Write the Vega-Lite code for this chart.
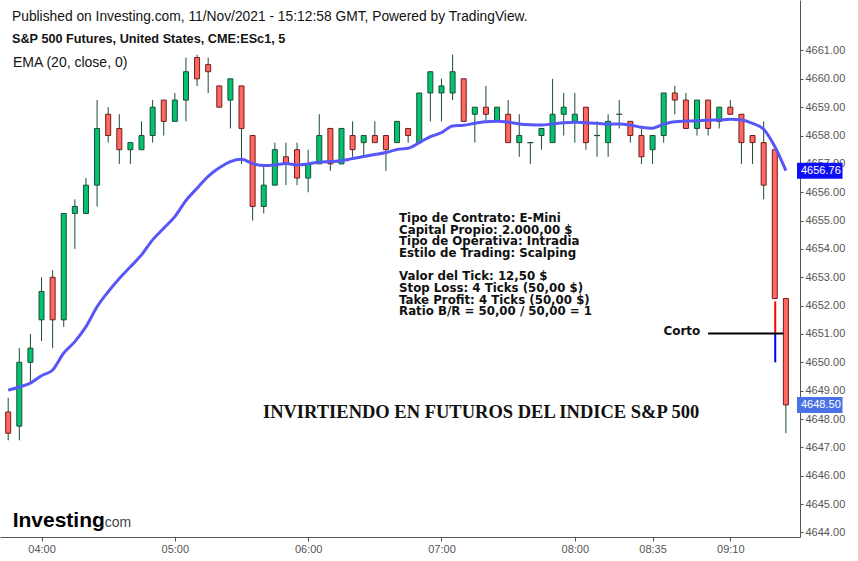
{
  "$schema": "https://vega.github.io/schema/vega-lite/v6.json",
  "width": 800,
  "height": 537,
  "autosize": {"type": "none"},
  "padding": {"left": 0, "top": 0, "right": 58, "bottom": 24},
  "background": "white",
  "config": {
    "view": {"stroke": null},
    "font": "Liberation Sans",
    "axis": {"domainColor": "#555555", "tickColor": "#555555", "labelColor": "#555555", "labelFontSize": 11, "labelFont": "Liberation Sans", "grid": false, "title": null, "labelFlush": false, "labelOverlap": false, "labelPadding": 2}
  },
  "title": {
    "text": "Published on Investing.com, 11/Nov/2021 - 15:12:58 GMT, Powered by TradingView.",
    "anchor": "start", "frame": "group", "orient": "top",
    "offset": -38, "dx": 12, "baseline": "bottom",
    "fontSize": 13.8, "fontWeight": "normal", "font": "Liberation Sans", "color": "#131313"
  },
  "data": {"values": [
    {"t":225,"o":4648.25,"h":4648.75,"l":4647.25,"c":4647.5,"ema":4649.02},
    {"t":230,"o":4647.75,"h":4650.5,"l":4647.25,"c":4650,"ema":4649.13},
    {"t":235,"o":4650,"h":4651,"l":4649.25,"c":4650.5,"ema":4649.27},
    {"t":240,"o":4651.5,"h":4653,"l":4650.75,"c":4652.5,"ema":4649.53},
    {"t":245,"o":4653,"h":4653.25,"l":4650.5,"c":4651.5,"ema":4649.73},
    {"t":250,"o":4651.5,"h":4655.25,"l":4651.25,"c":4655.25,"ema":4650.33},
    {"t":255,"o":4655.25,"h":4655.75,"l":4654,"c":4655.5,"ema":4650.73},
    {"t":260,"o":4655.25,"h":4656.5,"l":4655.25,"c":4656.25,"ema":4651.26},
    {"t":265,"o":4656.25,"h":4659.25,"l":4655.5,"c":4658.25,"ema":4651.96},
    {"t":270,"o":4658.75,"h":4659,"l":4657.75,"c":4658,"ema":4652.49},
    {"t":275,"o":4658.25,"h":4658.75,"l":4657,"c":4657.5,"ema":4652.96},
    {"t":280,"o":4657.5,"h":4657.75,"l":4657,"c":4657.75,"ema":4653.37},
    {"t":285,"o":4657.5,"h":4658.5,"l":4657.5,"c":4658,"ema":4653.79},
    {"t":290,"o":4658,"h":4659.25,"l":4657.75,"c":4659,"ema":4654.32},
    {"t":295,"o":4659.25,"h":4659.25,"l":4658,"c":4658.5,"ema":4654.73},
    {"t":300,"o":4658.5,"h":4659.5,"l":4658.5,"c":4659.25,"ema":4655.14},
    {"t":305,"o":4659.25,"h":4660.75,"l":4658.5,"c":4660.25,"ema":4655.71},
    {"t":310,"o":4660.75,"h":4660.85,"l":4659.75,"c":4660,"ema":4656.14},
    {"t":315,"o":4660.5,"h":4660.75,"l":4659.5,"c":4660.25,"ema":4656.56},
    {"t":320,"o":4659.75,"h":4659.75,"l":4659,"c":4659,"ema":4656.86},
    {"t":325,"o":4659.25,"h":4660,"l":4658.25,"c":4660,"ema":4657.08},
    {"t":330,"o":4659.75,"h":4659.75,"l":4657,"c":4658.25,"ema":4657.16},
    {"t":335,"o":4658,"h":4658,"l":4655,"c":4655.5,"ema":4657.01},
    {"t":340,"o":4655.5,"h":4657,"l":4655.25,"c":4656.25,"ema":4656.94},
    {"t":345,"o":4656.25,"h":4657.75,"l":4656.25,"c":4657.5,"ema":4656.96},
    {"t":350,"o":4657.25,"h":4657.75,"l":4656.25,"c":4657,"ema":4657.01},
    {"t":355,"o":4657.5,"h":4657.75,"l":4656.25,"c":4656.5,"ema":4656.96},
    {"t":360,"o":4656.5,"h":4657.5,"l":4656,"c":4657,"ema":4657.0},
    {"t":365,"o":4657,"h":4658.75,"l":4657,"c":4658,"ema":4657.06},
    {"t":370,"o":4658.25,"h":4658.25,"l":4656.75,"c":4657,"ema":4657.08},
    {"t":375,"o":4657,"h":4658.25,"l":4657,"c":4658.25,"ema":4657.11},
    {"t":380,"o":4658,"h":4658.5,"l":4657.25,"c":4657.5,"ema":4657.19},
    {"t":385,"o":4657.75,"h":4658,"l":4657.25,"c":4658,"ema":4657.26},
    {"t":390,"o":4658,"h":4658.5,"l":4657.75,"c":4657.75,"ema":4657.33},
    {"t":395,"o":4658,"h":4658,"l":4656.75,"c":4657.5,"ema":4657.40},
    {"t":400,"o":4657.75,"h":4658.5,"l":4657.75,"c":4658.5,"ema":4657.51},
    {"t":405,"o":4658.25,"h":4658.25,"l":4657.75,"c":4658,"ema":4657.55},
    {"t":410,"o":4657.75,"h":4659.5,"l":4657.75,"c":4659.5,"ema":4657.75},
    {"t":415,"o":4659.5,"h":4660.25,"l":4658.5,"c":4660.25,"ema":4657.96},
    {"t":420,"o":4659.5,"h":4660,"l":4658.5,"c":4659.75,"ema":4658.10},
    {"t":425,"o":4659.5,"h":4660.85,"l":4659.25,"c":4660.25,"ema":4658.34},
    {"t":430,"o":4660,"h":4660,"l":4658.5,"c":4658.5,"ema":4658.36},
    {"t":435,"o":4658.75,"h":4659,"l":4657.75,"c":4659,"ema":4658.43},
    {"t":440,"o":4659,"h":4659.75,"l":4658.5,"c":4658.75,"ema":4658.49},
    {"t":445,"o":4658.5,"h":4659,"l":4658.5,"c":4659,"ema":4658.50},
    {"t":450,"o":4658.75,"h":4659.25,"l":4657.75,"c":4657.75,"ema":4658.47},
    {"t":455,"o":4657.75,"h":4658.75,"l":4657.25,"c":4658,"ema":4658.41},
    {"t":460,"o":4657.75,"h":4657.75,"l":4657,"c":4657.75,"ema":4658.38},
    {"t":465,"o":4658,"h":4658.25,"l":4657.5,"c":4658.25,"ema":4658.37},
    {"t":470,"o":4657.75,"h":4660,"l":4657.75,"c":4658.75,"ema":4658.41},
    {"t":475,"o":4658.75,"h":4659.5,"l":4658,"c":4659,"ema":4658.45},
    {"t":480,"o":4658.5,"h":4659.5,"l":4657.75,"c":4658.75,"ema":4658.47},
    {"t":485,"o":4659,"h":4659,"l":4657.5,"c":4657.75,"ema":4658.45},
    {"t":490,"o":4658,"h":4658.5,"l":4657.25,"c":4658,"ema":4658.43},
    {"t":495,"o":4657.75,"h":4658.75,"l":4657.25,"c":4658.5,"ema":4658.40},
    {"t":500,"o":4658.75,"h":4659.25,"l":4658.25,"c":4658.75,"ema":4658.41},
    {"t":505,"o":4658.5,"h":4658.5,"l":4657.75,"c":4658,"ema":4658.37},
    {"t":510,"o":4658,"h":4658.25,"l":4657,"c":4657.25,"ema":4658.29},
    {"t":515,"o":4657.5,"h":4658,"l":4657,"c":4658,"ema":4658.26},
    {"t":520,"o":4658,"h":4659.5,"l":4657.75,"c":4659.5,"ema":4658.40},
    {"t":525,"o":4659.5,"h":4659.75,"l":4658.75,"c":4659.25,"ema":4658.49},
    {"t":530,"o":4659.25,"h":4659.5,"l":4658.25,"c":4658.25,"ema":4658.51},
    {"t":535,"o":4658.25,"h":4659.25,"l":4658,"c":4659.25,"ema":4658.52},
    {"t":540,"o":4659.25,"h":4659.25,"l":4658,"c":4658.25,"ema":4658.54},
    {"t":545,"o":4658.5,"h":4659,"l":4658.25,"c":4659,"ema":4658.55},
    {"t":550,"o":4659,"h":4659.25,"l":4658.75,"c":4658.75,"ema":4658.57},
    {"t":555,"o":4658.75,"h":4658.75,"l":4657,"c":4657.75,"ema":4658.55},
    {"t":560,"o":4658,"h":4658,"l":4657,"c":4657.75,"ema":4658.43},
    {"t":565,"o":4657.75,"h":4658.5,"l":4655.75,"c":4656.25,"ema":4658.22},
    {"t":570,"o":4657.5,"h":4657.5,"l":4652.25,"c":4652.25,"ema":4657.61},
    {"t":575,"o":4652.25,"h":4652.25,"l":4647.5,"c":4648.5,"ema":4656.76}
  ]},
  "layer": [
    {
      "mark": {"type": "rule", "color": "#1a4d36", "strokeWidth": 1},
      "encoding": {
        "x": {"field": "t", "type": "quantitative", "scale": {"domain": [223.56, 579.1], "nice": false, "zero": false},
          "axis": {"orient": "bottom", "values": [240, 300, 360, 420, 480, 515, 550], "labelExpr": "utcFormat(datum.value*60000, '%H:%M')", "tickSize": 4}},
        "y": {"field": "l", "type": "quantitative", "scale": {"domain": [4643.84, 4662.78], "nice": false, "zero": false},
          "axis": {"orient": "right", "format": ".2f", "values": [4644,4645,4646,4647,4648,4649,4650,4651,4652,4653,4654,4655,4656,4657,4658,4659,4660,4661], "tickSize": 3}},
        "y2": {"field": "h"}
      }
    },
    {
      "transform": [{"filter": "datum.c > datum.o"}],
      "mark": {"type": "bar", "size": 5, "fill": "#02c46f", "stroke": "#1a4d36", "strokeWidth": 1},
      "encoding": {
        "x": {"field": "t", "type": "quantitative", "scale": {"domain": [223.56, 579.1], "nice": false, "zero": false},
          "axis": {"orient": "bottom", "values": [240, 300, 360, 420, 480, 515, 550], "labelExpr": "utcFormat(datum.value*60000, '%H:%M')", "tickSize": 4}},
        "y": {"field": "o", "type": "quantitative", "scale": {"domain": [4643.84, 4662.78], "nice": false, "zero": false},
          "axis": {"orient": "right", "format": ".2f", "values": [4644,4645,4646,4647,4648,4649,4650,4651,4652,4653,4654,4655,4656,4657,4658,4659,4660,4661], "tickSize": 3}},
        "y2": {"field": "c"}
      }
    },
    {
      "transform": [{"filter": "datum.c < datum.o"}],
      "mark": {"type": "bar", "size": 5, "fill": "#ff675f", "stroke": "#6e1c1c", "strokeWidth": 1},
      "encoding": {
        "x": {"field": "t", "type": "quantitative", "scale": {"domain": [223.56, 579.1], "nice": false, "zero": false},
          "axis": {"orient": "bottom", "values": [240, 300, 360, 420, 480, 515, 550], "labelExpr": "utcFormat(datum.value*60000, '%H:%M')", "tickSize": 4}},
        "y": {"field": "o", "type": "quantitative", "scale": {"domain": [4643.84, 4662.78], "nice": false, "zero": false},
          "axis": {"orient": "right", "format": ".2f", "values": [4644,4645,4646,4647,4648,4649,4650,4651,4652,4653,4654,4655,4656,4657,4658,4659,4660,4661], "tickSize": 3}},
        "y2": {"field": "c"}
      }
    },
    {
      "transform": [{"filter": "datum.c == datum.o"}],
      "mark": {"type": "rule", "color": "#1a4d36", "strokeWidth": 1.2, "xOffset": -3, "x2Offset": 3},
      "encoding": {
        "x": {"field": "t", "type": "quantitative", "scale": {"domain": [223.56, 579.1], "nice": false, "zero": false},
          "axis": {"orient": "bottom", "values": [240, 300, 360, 420, 480, 515, 550], "labelExpr": "utcFormat(datum.value*60000, '%H:%M')", "tickSize": 4}},
        "x2": {"field": "t"},
        "y": {"field": "c", "type": "quantitative", "scale": {"domain": [4643.84, 4662.78], "nice": false, "zero": false},
          "axis": {"orient": "right", "format": ".2f", "values": [4644,4645,4646,4647,4648,4649,4650,4651,4652,4653,4654,4655,4656,4657,4658,4659,4660,4661], "tickSize": 3}}
      }
    },
    {
      "mark": {"type": "line", "strokeWidth": 3, "interpolate": "monotone"},
      "encoding": {
        "x": {"field": "t", "type": "quantitative", "scale": {"domain": [223.56, 579.1], "nice": false, "zero": false},
          "axis": {"orient": "bottom", "values": [240, 300, 360, 420, 480, 515, 550], "labelExpr": "utcFormat(datum.value*60000, '%H:%M')", "tickSize": 4}},
        "y": {"field": "ema", "type": "quantitative", "scale": {"domain": [4643.84, 4662.78], "nice": false, "zero": false},
          "axis": {"orient": "right", "format": ".2f", "values": [4644,4645,4646,4647,4648,4649,4650,4651,4652,4653,4654,4655,4656,4657,4658,4659,4660,4661], "tickSize": 3}},
        "color": {
          "datum": "EMA (20, close, 0)", "type": "nominal",
          "scale": {"range": ["#5757f7"]},
          "legend": {
            "orient": "none", "legendX": 12, "legendY": 33,
            "title": "S&P 500 Futures, United States, CME:ESc1, 5",
            "titleFont": "Liberation Sans", "titleFontSize": 12.7, "titleFontWeight": "bold",
            "titleColor": "#131313", "titleLimit": 600, "titlePadding": 10,
            "labelFont": "Liberation Sans", "labelFontSize": 14, "labelColor": "#131313",
            "labelLimit": 600, "labelOffset": -13,
            "symbolSize": 0, "symbolStrokeWidth": 0, "symbolOpacity": 0,
            "padding": 0, "rowPadding": 0
          }
        }
      }
    },
    {
      "data": {"values": [{}]},
      "mark": {"type": "text", "align": "left", "baseline": "alphabetic", "font": "DejaVu Sans", "fontWeight": "bold", "fontSize": 11.8, "lineHeight": 11.7, "color": "#111111"},
      "encoding": {
        "x": {"datum": 400.9, "type": "quantitative",
          "axis": {"orient": "bottom", "values": [240, 300, 360, 420, 480, 515, 550], "labelExpr": "utcFormat(datum.value*60000, '%H:%M')", "tickSize": 4}},
        "y": {"datum": 4654.95, "type": "quantitative",
          "axis": {"orient": "right", "format": ".2f", "values": [4644,4645,4646,4647,4648,4649,4650,4651,4652,4653,4654,4655,4656,4657,4658,4659,4660,4661], "tickSize": 3}},
        "text": {"value": ["Tipo de Contrato: E-Mini", "Capital Propio: 2.000,00 $", "Tipo de Operativa: Intradia", "Estilo de Trading: Scalping"]}
      }
    },
    {
      "data": {"values": [{}]},
      "mark": {"type": "text", "align": "left", "baseline": "alphabetic", "font": "DejaVu Sans", "fontWeight": "bold", "fontSize": 11.8, "lineHeight": 11.7, "color": "#111111"},
      "encoding": {
        "x": {"datum": 400.9, "type": "quantitative",
          "axis": {"orient": "bottom", "values": [240, 300, 360, 420, 480, 515, 550], "labelExpr": "utcFormat(datum.value*60000, '%H:%M')", "tickSize": 4}},
        "y": {"datum": 4652.9, "type": "quantitative",
          "axis": {"orient": "right", "format": ".2f", "values": [4644,4645,4646,4647,4648,4649,4650,4651,4652,4653,4654,4655,4656,4657,4658,4659,4660,4661], "tickSize": 3}},
        "text": {"value": ["Valor del Tick: 12,50 $", "Stop Loss: 4 Ticks (50,00 $)", "Take Profit: 4 Ticks (50,00 $)", "Ratio B/R = 50,00 / 50,00 = 1"]}
      }
    },
    {
      "data": {"values": [{}]},
      "mark": {"type": "text", "align": "right", "baseline": "middle", "font": "DejaVu Sans", "fontWeight": "bold", "fontSize": 12, "color": "#111111"},
      "encoding": {
        "x": {"datum": 536.5, "type": "quantitative",
          "axis": {"orient": "bottom", "values": [240, 300, 360, 420, 480, 515, 550], "labelExpr": "utcFormat(datum.value*60000, '%H:%M')", "tickSize": 4}},
        "y": {"datum": 4651.1, "type": "quantitative",
          "axis": {"orient": "right", "format": ".2f", "values": [4644,4645,4646,4647,4648,4649,4650,4651,4652,4653,4654,4655,4656,4657,4658,4659,4660,4661], "tickSize": 3}},
        "text": {"value": "Corto"}
      }
    },
    {
      "data": {"values": [{}]},
      "mark": {"type": "text", "align": "center", "baseline": "middle", "font": "Liberation Serif", "fontWeight": "bold", "fontSize": 18.5, "color": "#111111"},
      "encoding": {
        "x": {"datum": 437.8, "type": "quantitative",
          "axis": {"orient": "bottom", "values": [240, 300, 360, 420, 480, 515, 550], "labelExpr": "utcFormat(datum.value*60000, '%H:%M')", "tickSize": 4}},
        "y": {"datum": 4648.25, "type": "quantitative",
          "axis": {"orient": "right", "format": ".2f", "values": [4644,4645,4646,4647,4648,4649,4650,4651,4652,4653,4654,4655,4656,4657,4658,4659,4660,4661], "tickSize": 3}},
        "text": {"value": "INVIRTIENDO EN FUTUROS DEL INDICE S&P 500"}
      }
    },
    {
      "data": {"values": [{}]},
      "mark": {"type": "rule", "color": "#ff0000", "strokeWidth": 2},
      "encoding": {
        "x": {"datum": 570.2, "type": "quantitative",
          "axis": {"orient": "bottom", "values": [240, 300, 360, 420, 480, 515, 550], "labelExpr": "utcFormat(datum.value*60000, '%H:%M')", "tickSize": 4}},
        "y": {"datum": 4652.15, "type": "quantitative",
          "axis": {"orient": "right", "format": ".2f", "values": [4644,4645,4646,4647,4648,4649,4650,4651,4652,4653,4654,4655,4656,4657,4658,4659,4660,4661], "tickSize": 3}},
        "y2": {"datum": 4651}
      }
    },
    {
      "data": {"values": [{}]},
      "mark": {"type": "rule", "color": "#0000ff", "strokeWidth": 2},
      "encoding": {
        "x": {"datum": 570.2, "type": "quantitative",
          "axis": {"orient": "bottom", "values": [240, 300, 360, 420, 480, 515, 550], "labelExpr": "utcFormat(datum.value*60000, '%H:%M')", "tickSize": 4}},
        "y": {"datum": 4651, "type": "quantitative",
          "axis": {"orient": "right", "format": ".2f", "values": [4644,4645,4646,4647,4648,4649,4650,4651,4652,4653,4654,4655,4656,4657,4658,4659,4660,4661], "tickSize": 3}},
        "y2": {"datum": 4650}
      }
    },
    {
      "data": {"values": [{}]},
      "mark": {"type": "rule", "color": "#000000", "strokeWidth": 2},
      "encoding": {
        "x": {"datum": 540.0, "type": "quantitative",
          "axis": {"orient": "bottom", "values": [240, 300, 360, 420, 480, 515, 550], "labelExpr": "utcFormat(datum.value*60000, '%H:%M')", "tickSize": 4}},
        "x2": {"datum": 573.8},
        "y": {"datum": 4651.02, "type": "quantitative",
          "axis": {"orient": "right", "format": ".2f", "values": [4644,4645,4646,4647,4648,4649,4650,4651,4652,4653,4654,4655,4656,4657,4658,4659,4660,4661], "tickSize": 3}}
      }
    },
    {
      "data": {"values": [{"p": 4656.76, "bg": "#0f0ff5"}, {"p": 4648.5, "bg": "#4a72e6"}]},
      "mark": {"type": "rect", "clip": false, "yOffset": -8, "y2Offset": 8},
      "encoding": {
        "x": {"datum": 580.0, "type": "quantitative",
          "axis": {"orient": "bottom", "values": [240, 300, 360, 420, 480, 515, 550], "labelExpr": "utcFormat(datum.value*60000, '%H:%M')", "tickSize": 4}},
        "x2": {"datum": 600.5},
        "y": {"field": "p", "type": "quantitative",
          "axis": {"orient": "right", "format": ".2f", "values": [4644,4645,4646,4647,4648,4649,4650,4651,4652,4653,4654,4655,4656,4657,4658,4659,4660,4661], "tickSize": 3}},
        "y2": {"field": "p"},
        "fill": {"field": "bg", "type": "nominal", "scale": null}
      }
    },
    {
      "data": {"values": [{"p": 4656.76}, {"p": 4648.5}]},
      "mark": {"type": "text", "align": "left", "baseline": "middle", "font": "Liberation Sans", "fontSize": 11, "color": "#ffffff", "clip": false},
      "encoding": {
        "x": {"datum": 581.8, "type": "quantitative",
          "axis": {"orient": "bottom", "values": [240, 300, 360, 420, 480, 515, 550], "labelExpr": "utcFormat(datum.value*60000, '%H:%M')", "tickSize": 4}},
        "y": {"field": "p", "type": "quantitative",
          "axis": {"orient": "right", "format": ".2f", "values": [4644,4645,4646,4647,4648,4649,4650,4651,4652,4653,4654,4655,4656,4657,4658,4659,4660,4661], "tickSize": 3}},
        "text": {"field": "p", "type": "quantitative", "format": ".2f"}
      }
    },
    {
      "data": {"values": [{}]},
      "mark": {"type": "text", "align": "left", "baseline": "alphabetic", "font": "Liberation Sans", "fontWeight": "bold", "fontSize": 21, "color": "#000000"},
      "encoding": {
        "x": {"datum": 227.0, "type": "quantitative",
          "axis": {"orient": "bottom", "values": [240, 300, 360, 420, 480, 515, 550], "labelExpr": "utcFormat(datum.value*60000, '%H:%M')", "tickSize": 4}},
        "y": {"datum": 4644.19, "type": "quantitative",
          "axis": {"orient": "right", "format": ".2f", "values": [4644,4645,4646,4647,4648,4649,4650,4651,4652,4653,4654,4655,4656,4657,4658,4659,4660,4661], "tickSize": 3}},
        "text": {"value": "Investing"}
      }
    },
    {
      "data": {"values": [{}]},
      "mark": {"type": "text", "align": "left", "baseline": "alphabetic", "font": "Liberation Sans", "fontSize": 14, "color": "#444444"},
      "encoding": {
        "x": {"datum": 266.7, "type": "quantitative",
          "axis": {"orient": "bottom", "values": [240, 300, 360, 420, 480, 515, 550], "labelExpr": "utcFormat(datum.value*60000, '%H:%M')", "tickSize": 4}},
        "y": {"datum": 4644.19, "type": "quantitative",
          "axis": {"orient": "right", "format": ".2f", "values": [4644,4645,4646,4647,4648,4649,4650,4651,4652,4653,4654,4655,4656,4657,4658,4659,4660,4661], "tickSize": 3}},
        "text": {"value": ".com"}
      }
    }
  ]
}
